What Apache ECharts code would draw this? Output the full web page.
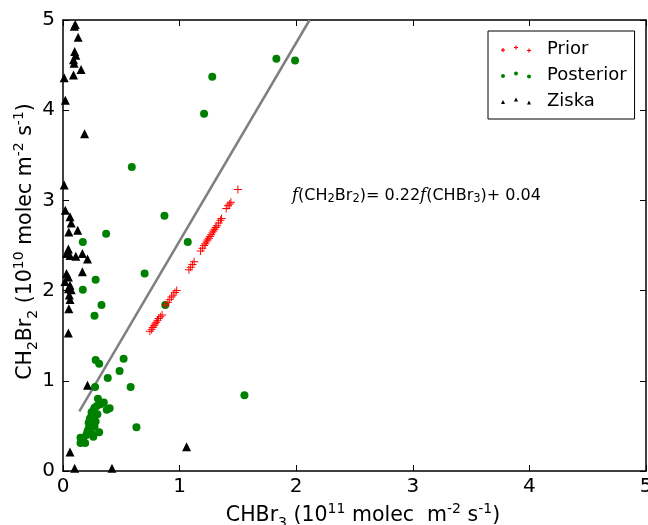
<!DOCTYPE html>
<html>
<head>
<meta charset="utf-8">
<script src="https://cdn.jsdelivr.net/npm/echarts@6/dist/echarts.min.js"></script>
<style>html,body{margin:0;padding:0;background:#fff}#c{width:648px;height:525px}</style>
</head>
<body>
<div id="c"></div>
<script>
// ---- data (x: CHBr3 1e11, y: CH2Br2 1e10) ----
var priorX = [0.745,0.76,0.77,0.78,0.79,0.80,0.81,0.82,0.835,0.85,
              0.88,0.90,0.915,0.93,0.945,0.96,0.975,
              1.08,1.095,1.11,1.125,
              1.18,1.195,1.21,1.22,1.23,1.24,1.25,1.26,1.27,1.28,1.29,1.30,1.31,1.32,1.335,1.35,1.36,
              1.40,1.415,1.43,1.44,
              1.50];
var priorY = [1.55,1.57,1.59,1.61,1.63,1.65,1.67,1.69,1.71,1.73,
              1.84,1.87,1.90,1.93,1.95,1.98,2.00,
              2.23,2.26,2.29,2.32,
              2.44,2.47,2.50,2.52,2.54,2.56,2.58,2.60,2.62,2.64,2.66,2.68,2.70,2.72,2.75,2.78,2.80,
              2.91,2.94,2.96,2.98,
              3.12];
var postX = [1.83,1.99,1.28,1.21,0.59,0.37,0.87,0.17,1.07,0.70,0.28,0.17,0.33,0.877,0.27,
             0.28,0.31,0.52,0.485,0.384,0.58,0.275,1.556,0.63,
             0.30,0.35,0.40,0.375,0.27,0.245,0.295,0.22,0.26,0.22,0.27,0.31,0.25,0.20,0.15,0.15,0.19,
             0.24,0.28,0.23,0.26,0.29,0.21,0.17,0.26,0.32];
var postY = [4.57,4.55,4.37,3.96,3.37,2.63,2.83,2.54,2.54,2.19,2.12,2.01,1.84,1.84,1.72,
             1.23,1.19,1.245,1.11,1.03,0.93,0.93,0.84,0.485,
             0.80,0.76,0.695,0.68,0.70,0.65,0.63,0.535,0.565,0.47,0.49,0.43,0.41,0.40,0.37,0.31,0.31,
             0.60,0.55,0.58,0.67,0.72,0.44,0.34,0.38,0.74];
var ziskaX = [0.097,0.105,0.13,0.10,0.11,0.09,0.095,0.155,0.09,0.01,0.02,0.185,0.01,0.02,0.06,0.07,0.126,0.05,
              0.046,0.03,0.06,0.11,0.166,0.21,0.166,0.03,0.046,0.017,0.06,0.046,0.07,0.054,0.06,0.05,0.046,
              0.21,0.06,0.10,0.42,1.06];
var ziskaY = [4.93,4.95,4.81,4.65,4.61,4.56,4.52,4.45,4.39,4.36,4.11,3.74,3.17,2.89,2.82,2.75,2.67,2.65,
              2.46,2.41,2.39,2.38,2.41,2.35,2.21,2.19,2.15,2.10,2.06,2.02,2.01,1.95,1.90,1.80,1.53,
              0.95,0.21,0.03,0.03,0.27];
var fitX = [0.14, 2.115];
var fitY = [0.66, 5.0];
var xTicks = [0,1,2,3,4,5];
var yTicks = [0,1,2,3,4,5];
var seriesNames = ['Prior','Posterior','Ziska'];

function pairs(xs, ys){ return xs.map(function(x,i){ return [x, ys[i]]; }); }

// marker shapes
var plusSym = 'path://M-0.12,-1L0.12,-1L0.12,-0.12L1,-0.12L1,0.12L0.12,0.12L0.12,1L-0.12,1L-0.12,0.12L-1,0.12L-1,-0.12L-0.12,-0.12Z';
function plusAt(cx,cy,r,t){
  return 'M'+(cx-t)+','+(cy-r)+'L'+(cx+t)+','+(cy-r)+'L'+(cx+t)+','+(cy-t)+'L'+(cx+r)+','+(cy-t)+
    'L'+(cx+r)+','+(cy+t)+'L'+(cx+t)+','+(cy+t)+'L'+(cx+t)+','+(cy+r)+'L'+(cx-t)+','+(cy+r)+
    'L'+(cx-t)+','+(cy+t)+'L'+(cx-r)+','+(cy+t)+'L'+(cx-r)+','+(cy-t)+'L'+(cx-t)+','+(cy-t)+'Z';
}
function circAt(cx,cy,r){
  return 'M'+(cx-r)+','+cy+'a'+r+','+r+' 0 1,0 '+(2*r)+',0a'+r+','+r+' 0 1,0 '+(-2*r)+',0Z';
}
function triAt(cx,cy,r){
  return 'M'+(cx-r)+','+(cy+r)+'L'+cx+','+(cy-r)+'L'+(cx+r)+','+(cy+r)+'Z';
}
var offs = [[2,4.8],[15,2.2],[28,5.2]];
var iconPrior = 'path://' + offs.map(function(o){return plusAt(o[0],o[1],2,0.6);}).join('');
var iconPost = 'path://' + offs.map(function(o){return circAt(o[0],o[1],2);}).join('');
var iconZiska = 'path://' + offs.map(function(o){return triAt(o[0],o[1],2);}).join('');

var FONT = 'DejaVu Sans';
var scriptRich = {
  n: {fontSize: 20.5, fontFamily: FONT, color:'#000', lineHeight: 28},
  sub: {fontSize: 14, fontFamily: FONT, color:'#000', verticalAlign:'bottom', lineHeight: 16},
  sup: {fontSize: 14, fontFamily: FONT, color:'#000', verticalAlign:'top', lineHeight: 16}
};

function axisCommon(show){
  return {
    min: 0, max: 5, interval: 1,
    axisLine: {show: true, onZero: false, lineStyle: {color:'#000', width: 1.5}},
    axisTick: {show: true, inside: true, length: 6, lineStyle: {color:'#000', width: 1}},
    splitLine: {show: false},
    axisLabel: {show: show, color:'#000', fontSize: 20, fontFamily: FONT}
  };
}

var xMain = Object.assign(axisCommon(true), {
  type:'value', position:'bottom',
  name: '{n|CHBr}{sub|3}{n| (10}{sup|11}{n| molec  m}{sup|-2}{n| s}{sup|-1}{n|)}',
  nameLocation: 'middle', nameGap: 18,
  nameTextStyle: {rich: scriptRich, padding:[0,0,0,17]}
});
xMain.axisLabel.margin = 6;
xMain.axisLabel.formatter = function(v){ return xTicks.indexOf(v) >= 0 ? String(v) : ''; };
var xTop = Object.assign(axisCommon(false), {type:'value', position:'top'});

var yMain = Object.assign(axisCommon(true), {
  type:'value', position:'left',
  name: '{n|CH}{sub|2}{n|Br}{sub|2}{n| (10}{sup|10}{n| molec m}{sup|-2}{n| s}{sup|-1}{n|)}',
  nameLocation: 'middle', nameGap: 23, nameMoveOverlap: false,
  nameTextStyle: {rich: scriptRich, padding:[0,0,0,8]}
});
yMain.axisLabel.margin = 8;
yMain.axisLabel.formatter = function(v){ return yTicks.indexOf(v) >= 0 ? String(v) : ''; };
var yRight = Object.assign(axisCommon(false), {type:'value', position:'right'});

var chart = echarts.init(document.getElementById('c'), null, {renderer:'canvas'});
chart.setOption({
  backgroundColor: '#fff',
  animation: false,
  grid: {left: 63, right: 2, top: 20, bottom: 54, containLabel: false, outerBoundsMode: 'none'},
  xAxis: [xMain, xTop],
  yAxis: [yMain, yRight],
  legend: {
    orient: 'vertical', left: 488, top: 31,
    padding: [9, 8, 9, 13], itemGap: 8, itemWidth: 30, itemHeight: 7,
    borderColor: '#000', borderWidth: 1, borderRadius: 0, backgroundColor: '#fff',
    textStyle: {fontSize: 18, fontFamily: FONT, color:'#000', lineHeight: 18, padding:[0,0,0,11]},
    data: [
      {name: seriesNames[0], icon: iconPrior},
      {name: seriesNames[1], icon: iconPost},
      {name: seriesNames[2], icon: iconZiska}
    ]
  },
  series: [
    {type:'line', data: pairs(fitX, fitY), symbol:'none', silent:true,
     lineStyle:{color:'#808080', width: 2.5}, z: 1, clip: true},
    {name: seriesNames[0], type:'scatter', data: pairs(priorX, priorY), symbol: plusSym, symbolSize: 8,
     itemStyle:{color:'#ff0000', opacity: 1}, z: 3},
    {name: seriesNames[1], type:'scatter', data: pairs(postX, postY), symbol:'circle', symbolSize: 8,
     itemStyle:{color:'#008000', opacity: 1}, z: 2},
    {name: seriesNames[2], type:'scatter', data: pairs(ziskaX, ziskaY), symbol:'triangle', symbolSize: 9,
     itemStyle:{color:'#000000', opacity: 1}, z: 4}
  ],
  graphic: [{
    type:'text', left: 292, top: 187, z: 10,
    style: {
      text: '{f|f}{n|(CH}{s|2}{n|Br}{s|2}{n|)= 0.22}{f|f}{n|(CHBr}{s|3}{n|)+ 0.04}',
      rich: {
        n: {fontSize: 16, fontFamily: FONT, fill:'#000', color:'#000', lineHeight: 20},
        f: {fontSize: 16.5, fontFamily: 'DejaVu Serif', fontStyle:'italic', fill:'#000', color:'#000', lineHeight: 20},
        s: {fontSize: 11.5, fontFamily: FONT, fill:'#000', color:'#000', verticalAlign:'bottom', lineHeight: 12}
      }
    }
  }]
});
</script>
</body>
</html>
